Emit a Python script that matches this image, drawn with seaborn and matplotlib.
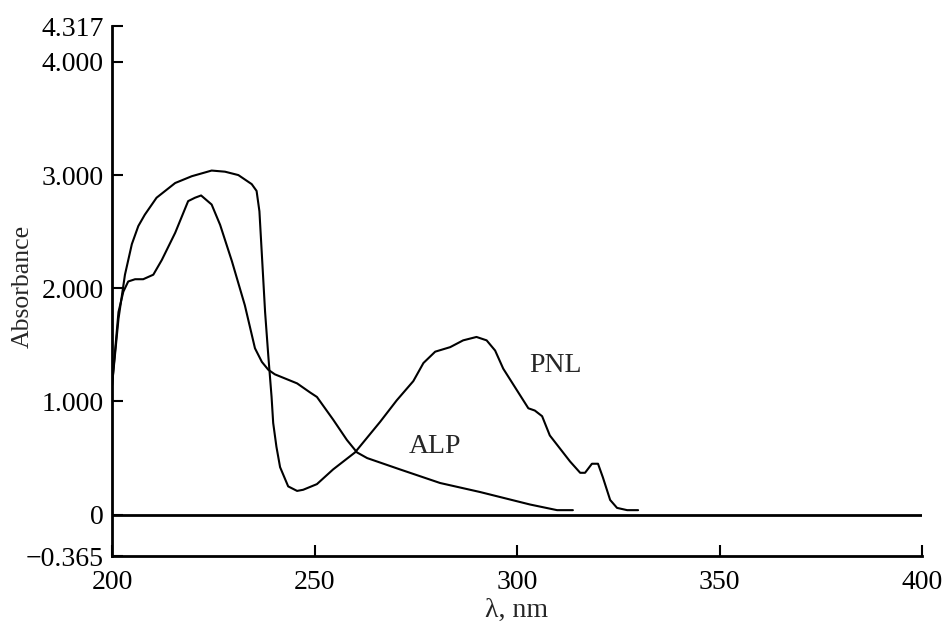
import matplotlib
matplotlib.use("Agg")
import matplotlib.pyplot as plt
import seaborn as sns
import pandas as pd

pnl_nm = [200.0, 201.6, 203.2, 204.9, 206.5, 208.1, 211.0, 215.6, 219.7, 224.6, 227.9, 231.2,
          234.5, 235.7, 236.4, 237.0, 237.8, 238.6, 239.4, 239.8, 240.6, 241.5, 243.5, 245.7,
          247.2, 250.6, 254.6, 260.0, 266.2, 270.3, 274.4, 276.9, 279.8, 283.5, 286.7, 290.0,
          292.5, 294.6, 296.6, 302.8, 304.4, 306.2, 308.1, 313.1, 315.6, 316.8, 318.5, 320.0,
          321.2, 323.0, 324.7, 327.2, 329.9]
pnl_abs = [1.14, 1.73, 2.12, 2.39, 2.55, 2.65, 2.80, 2.93, 2.99, 3.04, 3.03, 3.00,
           2.92, 2.86, 2.68, 2.30, 1.79, 1.40, 1.04, 0.81, 0.60, 0.42, 0.25, 0.21,
           0.22, 0.27, 0.40, 0.55, 0.82, 1.01, 1.18, 1.34, 1.44, 1.48, 1.54, 1.57,
           1.54, 1.45, 1.29, 0.94, 0.92, 0.87, 0.70, 0.47, 0.37, 0.37, 0.45, 0.45,
           0.33, 0.13, 0.06, 0.04, 0.04]

alp_nm = [200.0, 201.6, 202.8, 204.0, 205.7, 207.7, 210.2, 212.3, 215.6, 218.8, 220.5, 222.0,
          224.6, 226.7, 229.6, 232.8, 235.3, 237.0, 238.6, 240.2, 245.7, 248.9, 250.6, 254.6,
          258.0, 260.5, 263.0, 271.1, 281.0, 290.9, 303.2, 309.9, 313.8]
alp_abs = [1.14, 1.79, 1.97, 2.06, 2.08, 2.08, 2.12, 2.25, 2.49, 2.77, 2.80, 2.82,
           2.74, 2.56, 2.24, 1.85, 1.47, 1.35, 1.28, 1.24, 1.16, 1.08, 1.04, 0.84,
           0.66, 0.55, 0.50, 0.40, 0.28, 0.20, 0.09, 0.04, 0.04]

y_ticks = [-0.365, 0, 1.0, 2.0, 3.0, 4.0, 4.317]
y_tick_labels = ["\u22120.365", "0", "1.000", "2.000", "3.000", "4.000", "4.317"]
x_ticks = [200, 250, 300, 350, 400]

sns.set_style("ticks")
plt.rcParams["font.family"] = ["Liberation Serif", "DejaVu Serif"]

fig = plt.figure(figsize=(9.42, 6.25), dpi=100)
ax = fig.add_axes([112 / 942, 69 / 625, 810 / 942, 530 / 625])

df_pnl = pd.DataFrame({"nm": pnl_nm, "A": pnl_abs})
df_alp = pd.DataFrame({"nm": alp_nm, "A": alp_abs})
sns.lineplot(data=df_pnl, x="nm", y="A", ax=ax, color="black", lw=1.5, sort=False)
sns.lineplot(data=df_alp, x="nm", y="A", ax=ax, color="black", lw=1.5, sort=False)
ax.axhline(0, color="black", lw=2)

ax.set_xlim(200, 400)
ax.set_ylim(-0.365, 4.317)
ax.set_xticks(x_ticks)
ax.set_xticklabels([str(t) for t in x_ticks])
ax.set_yticks(y_ticks)
ax.set_yticklabels(y_tick_labels)
ax.tick_params(direction="in", length=8, width=1.5, labelsize=20, colors="black")
ax.tick_params(axis="x", pad=10)
ax.tick_params(axis="y", pad=6)
for s in ["top", "right"]:
    ax.spines[s].set_visible(False)
for s in ["left", "bottom"]:
    ax.spines[s].set_linewidth(2)
    ax.spines[s].set_color("black")

ax.set_xlabel("\u03bb, nm", fontsize=20, labelpad=2)
ax.set_ylabel("Absorbance", fontsize=18.5, va="center", ha="center")
ax.yaxis.set_label_coords((23 - 112) / 810, (556 - 286) / 530)

ax.text(309.4, 1.32, "PNL", fontsize=20, ha="center", va="center")
ax.text(279.8, 0.60, "ALP", fontsize=20, ha="center", va="center")

fig.savefig("out.png", dpi=100)
